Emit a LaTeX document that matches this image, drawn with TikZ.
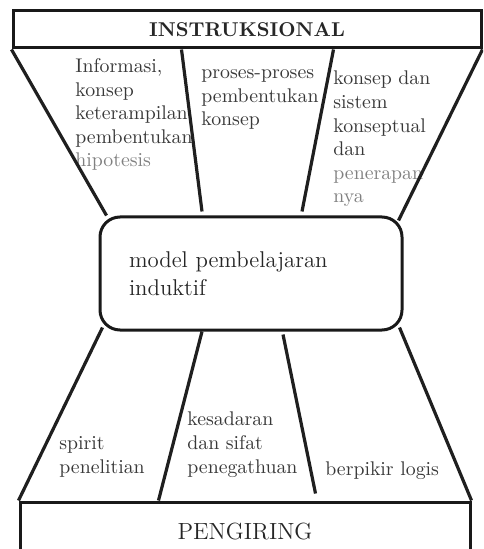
\documentclass[tikz,border=0pt]{standalone}
\begin{document}
\begin{tikzpicture}[
		x=0.5pt, y=-0.5pt,
		box/.style={draw=black!90, line width=1.5pt, inner sep=0pt, text=black!85},
		txt/.style={anchor=base west, align=left, inner sep=0pt, text=black!78, font=\fontsize{9.9}{11.8}\selectfont},
		leg/.style={draw=black!88, line width=1.6pt}
		]
		\clip (0,0) rectangle (483,549);
		\useasboundingbox (0,0) rectangle (483,549);
		\node[box, minimum width=234pt, minimum height=18.5pt, font=\fontsize{10}{12}\selectfont\bfseries] (instr) at (247,29.5) {INSTRUKSIONAL};
		\node[box, rounded corners=10pt, minimum width=151pt, minimum height=56.5pt, inner xsep=14.5pt, text width=122pt, align=left, font=\fontsize{11.4}{14}\selectfont] (model) at (251,273.5) {model pembelajaran\\ induktif};
		\node[box, minimum width=225pt, minimum height=30pt, font=\fontsize{11.7}{13}\selectfont] (iring) at (245,532) {PENGIRING};
		
		% bagian atas
		\node[txt] (info) at (75,167) {Informasi,\\ konsep\\ keterampilan\\ pembentukan\\ \textcolor{black!50}{hipotesis}};
		\node[txt] (proses) at (201,126) {proses-proses\\ pembentukan\\ konsep};
		\node[txt] (sistem) at (333,203) {konsep dan\\ sistem\\ konseptual\\ dan\\ \textcolor{black!50}{penerapan}\\ \textcolor{black!50}{nya}};
		
		% bagian bawah
		\node[txt] (spirit) at (59,473) {spirit\\ penelitian};
		\node[txt] (sadar) at (187,473) {kesadaran\\ dan sifat\\ penegathuan};
		\node[txt] (logis) at (325,475) {berpikir logis};
		
		\draw[leg] (instr.south west) -- ([xshift=4pt]model.north west);
		\draw[leg] ([xshift=85pt]instr.south west) -- ([xshift=-24.5pt, yshift=2pt]model.north);
		\draw[leg] ([xshift=-74.5pt]instr.south east) -- ([xshift=25.5pt, yshift=2pt]model.north);
		\draw[leg] (instr.south east) -- ([xshift=-2.5pt, yshift=-2.5pt]model.north east);
		
		\draw[leg] ([xshift=2pt, yshift=2pt]model.south west) -- (iring.north west);
		\draw[leg] ([xshift=-24.5pt]model.south) -- ([xshift=70pt]iring.north west);
		\draw[leg] ([xshift=16pt, yshift=-1.5pt]model.south) -- ([xshift=148.5pt, yshift=3.5pt]iring.north west);
		\draw[leg] ([xshift=-2pt, yshift=2pt]model.south east) -- (iring.north east);
	\end{tikzpicture}
\end{document}
